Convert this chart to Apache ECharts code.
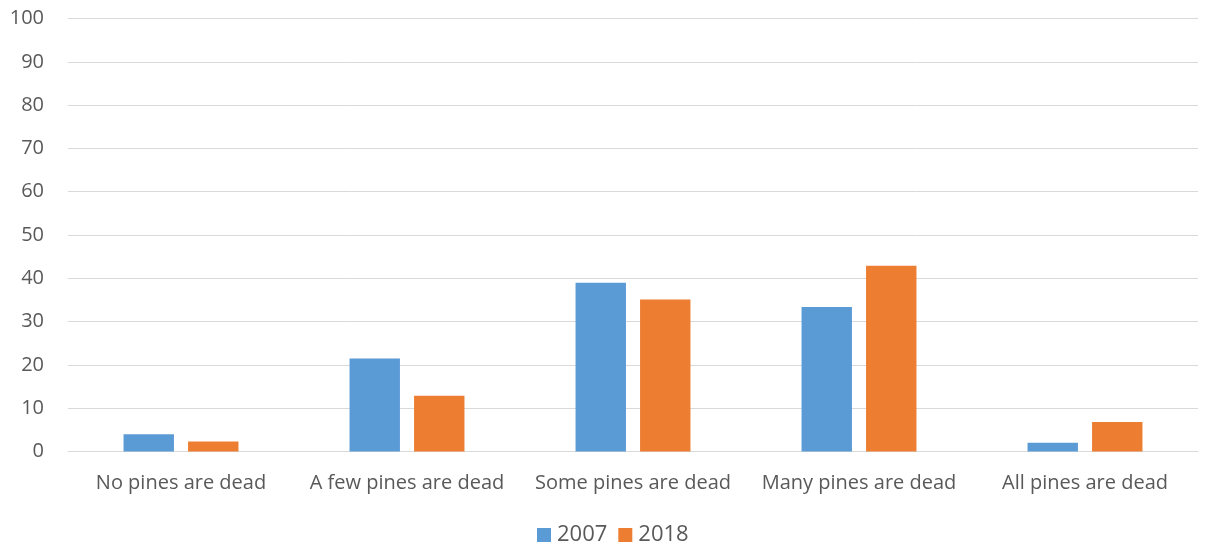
<!DOCTYPE html>
<html>
<head>
<meta charset="utf-8">
<script src="https://cdn.jsdelivr.net/npm/echarts@6/dist/echarts.min.js"></script>
<style>html,body{margin:0;padding:0;background:#fff;}#c{width:1206px;height:547px;}</style>
</head>
<body>
<div id="c"></div>
<script>
const categories = ["No pines are dead", "A few pines are dead", "Some pines are dead", "Many pines are dead", "All pines are dead"];
const seriesNames = ["2007", "2018"];
const values2007 = [4.0, 21.5, 39.0, 33.4, 2.0];
const values2018 = [2.3, 12.9, 35.1, 42.9, 6.8];
const colors = ["#5B9BD5", "#ED7D31"];

const chart = echarts.init(document.getElementById('c'), null, {renderer: 'canvas'});
const font = "Open Sans";
chart.setOption({
  animation: false,
  textStyle: {fontFamily: font},
  grid: {left: 68, right: 8, top: 18.5, bottom: 95.5, containLabel: false},
  legend: {
    top: 524, left: 537,
    itemWidth: 14, itemHeight: 14, itemGap: 11,
    icon: 'rect', padding: 0,
    textStyle: {fontSize: 22, color: '#595959', fontFamily: font, padding: [0, 0, 0, 1]},
    data: seriesNames
  },
  xAxis: {
    type: 'category', data: categories,
    axisLine: {show: true, lineStyle: {color: '#D9D9D9', width: 1}},
    axisTick: {show: false},
    axisLabel: {fontSize: 20, color: '#595959', margin: 22, fontFamily: font, interval: 0}
  },
  yAxis: {
    type: 'value', min: 0, max: 100, interval: 10,
    axisLine: {show: false}, axisTick: {show: false},
    splitLine: {lineStyle: {color: '#D9D9D9', width: 1}},
    axisLabel: {fontSize: 20, color: '#595959', margin: 24, fontFamily: font}
  },
  series: [
    {name: seriesNames[0], type: 'bar', data: values2007, barWidth: '22.3%', barGap: '28%', itemStyle: {color: colors[0]}},
    {name: seriesNames[1], type: 'bar', data: values2018, barWidth: '22.3%', barGap: '28%', itemStyle: {color: colors[1]}}
  ]
});
</script>
</body>
</html>
